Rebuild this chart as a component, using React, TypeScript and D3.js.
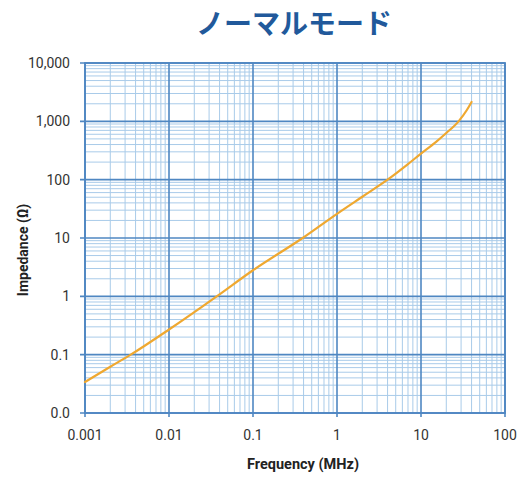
import React from "react";
import * as d3 from "d3";

const titleText = "ノーマルモード";
const xLabel = "Frequency (MHz)";
const yLabel = "Impedance (Ω)";

const xTickValues = [0.001, 0.01, 0.1, 1, 10, 100];
const xTickLabels = ["0.001", "0.01", "0.1", "1", "10", "100"];
const yTickValues = [0.01, 0.1, 1, 10, 100, 1000, 10000];
const yTickLabels = ["0.0", "0.1", "1", "10", "100", "1,000", "10,000"];

const frequency = [0.001, 0.002, 0.0035, 0.01, 0.037, 0.1, 0.39, 1, 2, 4, 7, 10, 15, 20, 28, 35, 40];
const impedance = [0.034, 0.062, 0.1, 0.27, 1, 2.8, 10, 26, 51, 100, 185, 280, 440, 630, 1000, 1550, 2150];

const W = 527;
const H = 477;
const M = { left: 85, right: 22, top: 63, bottom: 64 };

export default function App() {
  const x = d3.scaleLog().domain([0.001, 100]).range([M.left, W - M.right]);
  const y = d3.scaleLog().domain([0.01, 10000]).range([H - M.bottom, M.top]);

  const minorX: number[] = [];
  for (let d = 0.001; d < 100; d *= 10) {
    for (let k = 2; k <= 9; k++) minorX.push(d * k);
  }
  const minorY: number[] = [];
  for (let d = 0.01; d < 10000; d *= 10) {
    for (let k = 2; k <= 9; k++) minorY.push(d * k);
  }

  const pts = frequency.map((f, i) => [f, impedance[i]] as [number, number]);
  const line = d3
    .line<[number, number]>()
    .x((d) => x(d[0]))
    .y((d) => y(d[1]))
    .curve(d3.curveMonotoneX);

  const [x0, x1] = x.range();
  const [y0, y1] = y.range();
  const minorColor = "#a9cbe9";
  const majorColor = "#4f87c2";
  const tickFont = "Roboto, 'Noto Sans', sans-serif";

  return (
    <svg
      width={W}
      height={H}
      style={{ position: "absolute", left: 0, top: 0, background: "#fff" }}
    >
      <text
        x={294}
        y={34}
        textAnchor="middle"
        fontFamily="'Noto Sans CJK JP', sans-serif"
        fontWeight={700}
        fontSize={28}
        fill="#21599b"
      >
        {titleText}
      </text>

      <g>
        {minorX.map((v, i) => (
          <line key={"mx" + i} x1={x(v)} x2={x(v)} y1={y1} y2={y0} stroke={minorColor} strokeWidth={1} />
        ))}
        {minorY.map((v, i) => (
          <line key={"my" + i} x1={x0} x2={x1} y1={y(v)} y2={y(v)} stroke={minorColor} strokeWidth={1} />
        ))}
        {xTickValues.map((v, i) => (
          <line key={"Mx" + i} x1={x(v)} x2={x(v)} y1={y1} y2={y0 + 4} stroke={majorColor} strokeWidth={1.6} />
        ))}
        {yTickValues.map((v, i) => (
          <line key={"My" + i} x1={x0 - 5} x2={x1} y1={y(v)} y2={y(v)} stroke={majorColor} strokeWidth={1.6} />
        ))}
        <rect x={x0} y={y1} width={x1 - x0} height={y0 - y1} fill="none" stroke={majorColor} strokeWidth={1.8} />
      </g>

      <path d={line(pts) || ""} fill="none" stroke="#efa830" strokeWidth={2.2} strokeLinejoin="round" strokeLinecap="round" />

      <g fontFamily={tickFont} fontSize={14} fill="#333">
        {yTickValues.map((v, i) => (
          <text key={"yl" + i} x={70} y={y(v)} dy="0.35em" textAnchor="end">
            {yTickLabels[i]}
          </text>
        ))}
        {xTickValues.map((v, i) => (
          <text key={"xl" + i} x={x(v)} y={440} textAnchor="middle">
            {xTickLabels[i]}
          </text>
        ))}
      </g>

      <text
        x={303}
        y={469}
        textAnchor="middle"
        fontFamily={tickFont}
        fontWeight={700}
        fontSize={14.5}
        fill="#222"
      >
        {xLabel}
      </text>
      <text
        transform={`translate(28,250) rotate(-90)`}
        textAnchor="middle"
        fontFamily={tickFont}
        fontWeight={700}
        fontSize={14}
        fill="#222"
      >
        {yLabel}
      </text>
    </svg>
  );
}
